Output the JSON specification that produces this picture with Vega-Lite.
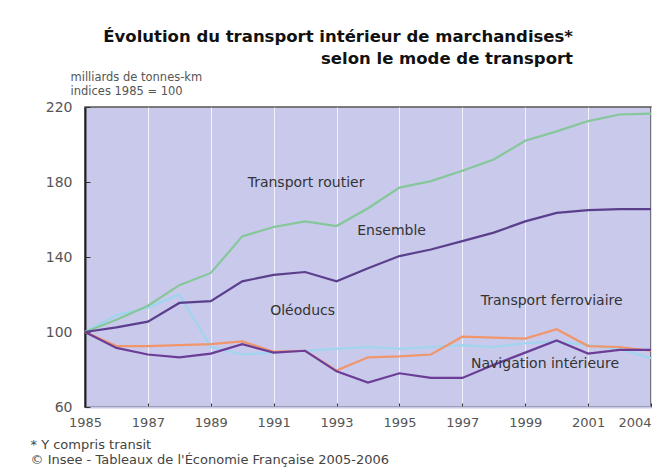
{
  "$schema": "https://vega.github.io/schema/vega-lite/v6.json",
  "width": 566,
  "height": 300,
  "autosize": {"type": "none"},
  "padding": {"left": 85, "top": 107, "right": 11, "bottom": 68},
  "background": "#ffffff",
  "config": {
    "view": {"fill": "#c9c9ec", "stroke": "#555", "strokeWidth": 1.5},
    "font": "DejaVu Sans"
  },
  "title": {
    "text": ["Évolution du transport intérieur de marchandises*", "selon le mode de transport"],
    "anchor": "start",
    "align": "right",
    "frame": "group",
    "dx": 488,
    "dy": 6,
    "font": "DejaVu Sans",
    "fontWeight": "bold",
    "fontSize": 16.5,
    "lineHeight": 22,
    "color": "#111",
    "offset": 10
  },
  "datasets": {
    "series": [
      {"annee": 1985, "routier": 100, "ensemble": 100, "oleoducs": 100, "ferroviaire": 100, "navigation": 100},
      {"annee": 1986, "routier": 106.5, "ensemble": 102.5, "oleoducs": 109, "ferroviaire": 92.5, "navigation": 91.5},
      {"annee": 1987, "routier": 114, "ensemble": 105.5, "oleoducs": 113, "ferroviaire": 92.5, "navigation": 88},
      {"annee": 1988, "routier": 125, "ensemble": 115.5, "oleoducs": 120, "ferroviaire": 93, "navigation": 86.5},
      {"annee": 1989, "routier": 131.5, "ensemble": 116.5, "oleoducs": 92, "ferroviaire": 93.5, "navigation": 88.5},
      {"annee": 1990, "routier": 151, "ensemble": 127, "oleoducs": 88, "ferroviaire": 95, "navigation": 93.5},
      {"annee": 1991, "routier": 156, "ensemble": 130.5, "oleoducs": 89, "ferroviaire": 89.5, "navigation": 89},
      {"annee": 1992, "routier": 159, "ensemble": 132, "oleoducs": 90, "ferroviaire": 90, "navigation": 90},
      {"annee": 1993, "routier": 156.5, "ensemble": 127, "oleoducs": 91, "ferroviaire": 79.5, "navigation": 79},
      {"annee": 1994, "routier": 166, "ensemble": 134, "oleoducs": 92, "ferroviaire": 86.5, "navigation": 73},
      {"annee": 1995, "routier": 177, "ensemble": 140.5, "oleoducs": 91, "ferroviaire": 87, "navigation": 78},
      {"annee": 1996, "routier": 180.5, "ensemble": 144, "oleoducs": 92, "ferroviaire": 88, "navigation": 75.5},
      {"annee": 1997, "routier": 186, "ensemble": 148.5, "oleoducs": 93, "ferroviaire": 97.5, "navigation": 75.5},
      {"annee": 1998, "routier": 192, "ensemble": 153, "oleoducs": 92, "ferroviaire": 97, "navigation": 82.5},
      {"annee": 1999, "routier": 202, "ensemble": 159, "oleoducs": 94, "ferroviaire": 96.5, "navigation": 89},
      {"annee": 2000, "routier": 207, "ensemble": 163.5, "oleoducs": 95, "ferroviaire": 101.5, "navigation": 95.5},
      {"annee": 2001, "routier": 212.5, "ensemble": 165, "oleoducs": 93, "ferroviaire": 92.5, "navigation": 88.5},
      {"annee": 2002, "routier": 216, "ensemble": 165.5, "oleoducs": 91, "ferroviaire": 92, "navigation": 90.5},
      {"annee": 2003, "routier": 216.5, "ensemble": 165.5, "oleoducs": 86, "ferroviaire": 90, "navigation": 90.5}
    ],
    "labels": [
      {"texte": "Transport routier", "annee": 1992.03, "indice": 179.7},
      {"texte": "Ensemble", "annee": 1994.75, "indice": 154.1},
      {"texte": "Oléoducs", "annee": 1991.92, "indice": 111.1},
      {"texte": "Transport ferroviaire", "annee": 1999.84, "indice": 116.4},
      {"texte": "Navigation intérieure", "annee": 1999.63, "indice": 82.7}
    ]
  },
  "layer": [
    {
      "data": {"name": "series"},
      "transform": [{"fold": ["oleoducs", "ferroviaire", "navigation", "routier", "ensemble"], "as": ["mode", "indice"]}],
      "mark": {"type": "line", "strokeWidth": 2.2},
      "encoding": {
        "x": {
          "field": "annee",
          "type": "quantitative",
          "scale": {"domain": [1985, 2003], "nice": false, "zero": false},
          "axis": {
            "values": [1985, 1986, 1987, 1988, 1989, 1990, 1991, 1992, 1993, 1994, 1995, 1996, 1997, 1998, 1999, 2000, 2001, 2002, 2003],
            "labelExpr": "datum.value == 2003 ? '2004' : (datum.value % 2 == 1 ? format(datum.value, 'd') : '')",
            "labelAlign": {"condition": {"test": "datum.value == 2003", "value": "right"}, "value": "center"},
            "labelOverlap": false,
            "labelFont": "DejaVu Sans",
            "labelFontSize": 13,
            "labelColor": "#555",
            "labelPadding": 13,
            "tickSize": -4,
            "tickColor": "#333",
            "domainColor": "#c9c9ec",
            "domainWidth": 2,
            "grid": true,
            "gridColor": "#ffffff",
            "gridOpacity": 0.75,
            "gridWidth": 1,
            "title": ["* Y compris transit", "© Insee - Tableaux de l'Économie Française 2005-2006"],
            "titleAnchor": "start",
            "titleAlign": "left",
            "titleBaseline": "top",
            "titleX": -55,
            "titleY": 31,
            "titleFont": "DejaVu Sans",
            "titleFontSize": 13,
            "titleFontWeight": "normal",
            "titleLineHeight": 15,
            "titleColor": "#444"
          }
        },
        "y": {
          "field": "indice",
          "type": "quantitative",
          "scale": {"domain": [60, 220], "nice": false, "zero": false},
          "axis": {
            "values": [60, 70, 80, 90, 100, 110, 120, 130, 140, 150, 160, 170, 180, 190, 200, 210, 220],
            "labelExpr": "datum.value % 20 == 0 ? datum.label : ''",
            "labelFont": "DejaVu Sans",
            "labelFontSize": 14,
            "labelColor": "#555",
            "labelPadding": 18,
            "tickSize": -5,
            "tickColor": "#333",
            "domainColor": "#222",
            "domainWidth": 2,
            "grid": false,
            "title": ["milliards de tonnes-km", "indices 1985 = 100"],
            "titleAngle": 0,
            "titleAlign": "left",
            "titleBaseline": "top",
            "titleX": -15,
            "titleY": -36,
            "titleFont": "DejaVu Sans",
            "titleFontSize": 11.5,
            "titleFontWeight": "normal",
            "titleLineHeight": 14,
            "titleColor": "#555"
          }
        },
        "color": {
          "field": "mode",
          "type": "nominal",
          "scale": {
            "domain": ["oleoducs", "ferroviaire", "navigation", "routier", "ensemble"],
            "range": ["#9fd5ee", "#f0966a", "#6b3d96", "#86c79a", "#5b3f8c"]
          },
          "legend": null
        }
      }
    },
    {
      "data": {"name": "labels"},
      "mark": {"type": "text", "font": "DejaVu Sans", "fontSize": 14, "color": "#333"},
      "encoding": {
        "x": {"field": "annee", "type": "quantitative"},
        "y": {"field": "indice", "type": "quantitative"},
        "text": {"field": "texte"}
      }
    }
  ]
}
